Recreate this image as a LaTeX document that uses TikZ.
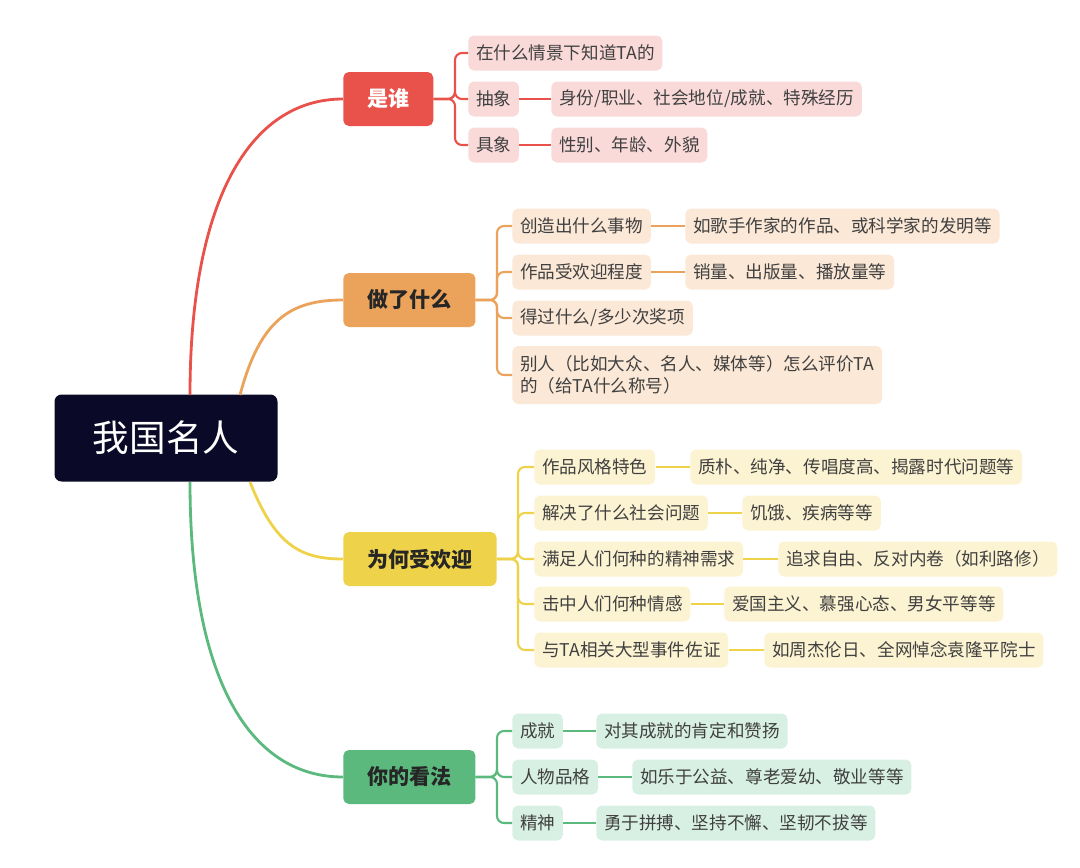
\documentclass[tikz,border=0pt]{standalone}
\usepackage{fontspec}
\setmainfont{Noto Sans CJK SC}
\usetikzlibrary{positioning,calc}
\definecolor{rootc}{HTML}{0A0A28}
\definecolor{redc}{HTML}{E8524A}
\definecolor{redl}{HTML}{F9DAD9}
\definecolor{orac}{HTML}{EBA25A}
\definecolor{oral}{HTML}{FBE8D6}
\definecolor{yelc}{HTML}{EDD24A}
\definecolor{yell}{HTML}{FCF3D2}
\definecolor{grnc}{HTML}{5BB97E}
\definecolor{grnl}{HTML}{D8F0E3}
\begin{document}
\begin{tikzpicture}[x=0.025cm,y=-0.025cm,
    root/.style={fill=rootc,text=white,rounded corners=5pt,minimum width=223*0.025cm,minimum height=87*0.025cm,font=\fontsize{26}{30}\selectfont},
    br/.style={fill=#1,rounded corners=4pt,minimum height=54*0.025cm,inner xsep=17pt,font=\fontsize{15}{18}\selectfont\bfseries,anchor=west},
    lf/.style={fill=#1,rounded corners=4pt,minimum height=35*0.025cm,inner xsep=5.5pt,font=\fontsize{12.5}{15.5}\selectfont,text=black!75,anchor=west,align=left},
    ln/.style={draw=#1,line width=2pt},
    bk/.style={draw=#1,line width=1.5pt,rounded corners=5pt}]
\useasboundingbox (0,0) rectangle (1080,868);

% root and branches
\node[root] (R) at (166,438) {我国名人};
\node[br=redc,text=white] (B1) at (343,99) {是谁};
\node[br=orac,text=black!85] (B2) at (343,300) {做了什么};
\node[br=yelc,text=black!85] (B3) at (343,559) {为何受欢迎};
\node[br=grnc,text=black!85] (B4) at (343,777) {你的看法};

\draw[ln=redc] (190,395) .. controls (190,200) and (250,99) .. (B1.west);
\draw[ln=orac] (240,395) .. controls (260,320) and (290,300) .. (B2.west);
\draw[ln=yelc] (250,482) .. controls (275,545) and (300,559) .. (B3.west);
\draw[ln=grnc] (190,482) .. controls (190,680) and (250,777) .. (B4.west);

% 是谁
\node[lf=redl] (A1) at (468,53) {在什么情景下知道TA的};
\node[lf=redl] (A2) at (468,99) {抽象};
\node[lf=redl] (A2a) at (551,99) {身份/职业、社会地位/成就、特殊经历};
\node[lf=redl] (A3) at (468,145) {具象};
\node[lf=redl] (A3a) at (551,145) {性别、年龄、外貌};
\foreach \n in {A1,A2,A3}
  \draw[bk=redc] (B1.east) -- (455,99) |- (\n.west);
\draw[ln=redc] (A2) -- (A2a);
\draw[ln=redc] (A3) -- (A3a);

% 做了什么
\node[lf=oral] (C1) at (512,226) {创造出什么事物};
\node[lf=oral] (C1a) at (685,226) {如歌手作家的作品、或科学家的发明等};
\node[lf=oral] (C2) at (512,272) {作品受欢迎程度};
\node[lf=oral] (C2a) at (685,272) {销量、出版量、播放量等};
\node[lf=oral] (C3) at (512,318) {得过什么/多少次奖项};
\node[lf=oral,minimum height=58*0.025cm] (C4) at (512,375) {别人（比如大众、名人、媒体等）怎么评价TA\\的（给TA什么称号）};
\foreach \n in {C1,C2,C3,C4}
  \draw[bk=orac] (B2.east) -- (497,300) |- (\n.west);
\draw[ln=orac] (C1) -- (C1a);
\draw[ln=orac] (C2) -- (C2a);

% 为何受欢迎
\node[lf=yell] (D1) at (534,467) {作品风格特色};
\node[lf=yell] (D1a) at (690,467) {质朴、纯净、传唱度高、揭露时代问题等};
\node[lf=yell] (D2) at (534,513) {解决了什么社会问题};
\node[lf=yell] (D2a) at (742,513) {饥饿、疾病等等};
\node[lf=yell] (D3) at (534,559) {满足人们何种的精神需求};
\node[lf=yell] (D3a) at (778,559) {追求自由、反对内卷（如利路修）};
\node[lf=yell] (D4) at (534,604) {击中人们何种情感};
\node[lf=yell] (D4a) at (724,604) {爱国主义、慕强心态、男女平等等};
\node[lf=yell] (D5) at (534,650) {与TA相关大型事件佐证};
\node[lf=yell] (D5a) at (764,650) {如周杰伦日、全网悼念袁隆平院士};
\foreach \n in {D1,D2,D3,D4,D5}
  \draw[bk=yelc] (B3.east) -- (518,559) |- (\n.west);
\foreach \n in {D1,D2,D3,D4,D5}
  \draw[ln=yelc] (\n) -- (\n a);

% 你的看法
\node[lf=grnl] (E1) at (512,731) {成就};
\node[lf=grnl] (E1a) at (596,731) {对其成就的肯定和赞扬};
\node[lf=grnl] (E2) at (512,777) {人物品格};
\node[lf=grnl] (E2a) at (632,777) {如乐于公益、尊老爱幼、敬业等等};
\node[lf=grnl] (E3) at (512,823) {精神};
\node[lf=grnl] (E3a) at (596,823) {勇于拼搏、坚持不懈、坚韧不拔等};
\foreach \n in {E1,E2,E3}
  \draw[bk=grnc] (B4.east) -- (497,777) |- (\n.west);
\foreach \n in {E1,E2,E3}
  \draw[ln=grnc] (\n) -- (\n a);
\end{tikzpicture}
\end{document}
